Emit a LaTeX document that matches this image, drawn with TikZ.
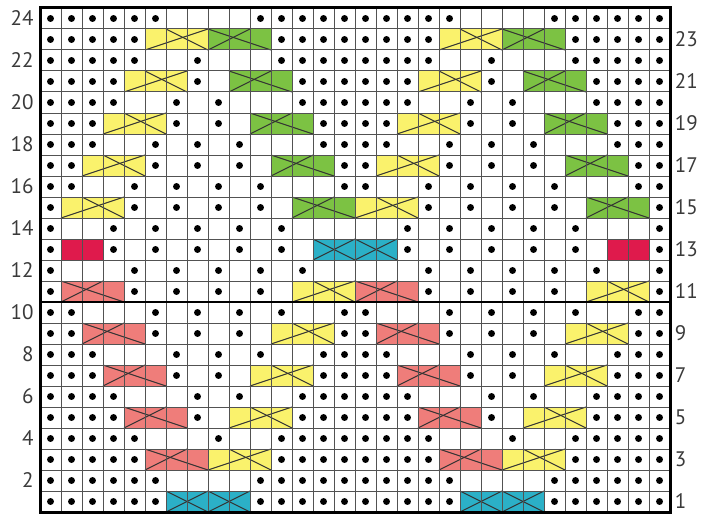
\documentclass[tikz,border=0pt]{standalone}
\usepackage{fontspec}
\setmainfont{PT Sans}
\definecolor{cyel}{HTML}{FAF26C}
\definecolor{cgrn}{HTML}{7CC243}
\definecolor{cpnk}{HTML}{EF7D7A}
\definecolor{cred}{HTML}{DF1A4C}
\definecolor{ccya}{HTML}{2BB0C7}
\definecolor{clab}{HTML}{3A3A3A}
\tikzset{
  gridline/.style={line width=1pt, black!68},
  cabline/.style={line width=1pt, black!80},
  stdot/.style={fill=black},
  rowlab/.style={text=clab, font=\fontsize{21}{23}\selectfont, inner sep=0pt},
}
\newcommand{\cabL}[3]{%
  \fill[#3] ({#1-1},{#2-1}) rectangle ({#1+2},#2);
  \draw[cabline] ({#1-1},#2) -- ({#1+2},{#2-1});
  \draw[cabline] ({#1-1},{#2-1}) -- ({#1+1},#2);}
\newcommand{\cabR}[3]{%
  \fill[#3] ({#1-1},{#2-1}) rectangle ({#1+2},#2);
  \draw[cabline] ({#1-1},{#2-1}) -- ({#1+2},#2);
  \draw[cabline] (#1,#2) -- ({#1+2},{#2-1});}
\newcommand{\cabC}[2]{%
  \fill[ccya] ({#1-1},{#2-1}) rectangle ({#1+3},#2);
  \draw[cabline] ({#1-1},#2) -- ({#1+1},{#2-1});
  \draw[cabline] ({#1-1},{#2-1}) -- ({#1+1},#2);
  \draw[cabline] ({#1+1},#2) -- ({#1+3},{#2-1});
  \draw[cabline] ({#1+1},{#2-1}) -- ({#1+3},#2);}
\newcommand{\cabP}[2]{%
  \fill[cred] ({#1-1},{#2-1}) rectangle ({#1+1},#2);}
\newcommand{\dotrow}[2]{%
  \foreach \cc in {#2} {\fill[stdot] ({\cc-0.5},{#1-0.5}) circle (0.165);}}
\begin{document}
\begin{tikzpicture}[x=21pt,y=21pt]
\useasboundingbox[fill=white] (-1.905,-0.095) rectangle (31.571,24.381);
% cables (fill and crossing lines)
\cabC{7}{1} \cabC{21}{1}
\cabL{6}{3}{cpnk} \cabL{20}{3}{cpnk} \cabR{9}{3}{cyel} \cabR{23}{3}{cyel}
\cabL{5}{5}{cpnk} \cabL{19}{5}{cpnk} \cabR{10}{5}{cyel} \cabR{24}{5}{cyel}
\cabL{4}{7}{cpnk} \cabL{18}{7}{cpnk} \cabR{11}{7}{cyel} \cabR{25}{7}{cyel}
\cabL{3}{9}{cpnk} \cabL{17}{9}{cpnk} \cabR{12}{9}{cyel} \cabR{26}{9}{cyel}
\cabL{2}{11}{cpnk} \cabL{16}{11}{cpnk} \cabR{13}{11}{cyel} \cabR{27}{11}{cyel}
\cabP{2}{13} \cabP{28}{13} \cabC{14}{13}
\cabR{2}{15}{cyel} \cabR{16}{15}{cyel} \cabL{13}{15}{cgrn} \cabL{27}{15}{cgrn}
\cabR{3}{17}{cyel} \cabR{17}{17}{cyel} \cabL{12}{17}{cgrn} \cabL{26}{17}{cgrn}
\cabR{4}{19}{cyel} \cabR{18}{19}{cyel} \cabL{11}{19}{cgrn} \cabL{25}{19}{cgrn}
\cabR{5}{21}{cyel} \cabR{19}{21}{cyel} \cabL{10}{21}{cgrn} \cabL{24}{21}{cgrn}
\cabR{6}{23}{cyel} \cabR{20}{23}{cyel} \cabL{9}{23}{cgrn} \cabL{23}{23}{cgrn}
% grid
\foreach \i in {1,...,29} {\draw[gridline] (\i,0) -- (\i,24);}
\foreach \j in {1,...,23} {\draw[gridline] (0,\j) -- (30,\j);}
% dots
\dotrow{1}{1,2,3,4,5,6,11,12,13,14,15,16,17,18,19,20,25,26,27,28,29,30}
\dotrow{2}{1,2,3,4,5,6,11,12,13,14,15,16,17,18,19,20,25,26,27,28,29,30}
\dotrow{3}{1,2,3,4,5,12,13,14,15,16,17,18,19,26,27,28,29,30}
\dotrow{4}{1,2,3,4,5,9,12,13,14,15,16,17,18,19,23,26,27,28,29,30}
\dotrow{5}{1,2,3,4,8,13,14,15,16,17,18,22,27,28,29,30}
\dotrow{6}{1,2,3,4,8,10,13,14,15,16,17,18,22,24,27,28,29,30}
\dotrow{7}{1,2,3,7,9,14,15,16,17,21,23,28,29,30}
\dotrow{8}{1,2,3,7,9,11,14,15,16,17,21,23,25,28,29,30}
\dotrow{9}{1,2,6,8,10,15,16,20,22,24,29,30}
\dotrow{10}{1,2,6,8,10,12,15,16,20,22,24,26,29,30}
\dotrow{11}{1,5,7,9,11,19,21,23,25,30}
\dotrow{12}{1,5,7,9,11,13,19,21,23,25,27,30}
\dotrow{13}{1,4,6,8,10,12,18,20,22,24,26,30}
\dotrow{14}{1,4,6,8,10,12,18,20,22,24,26,30}
\dotrow{15}{1,5,7,9,11,19,21,23,25,30}
\dotrow{16}{1,2,5,7,9,11,15,16,19,21,23,25,29,30}
\dotrow{17}{1,2,6,8,10,15,16,20,22,24,29,30}
\dotrow{18}{1,2,3,6,8,10,14,15,16,17,20,22,24,28,29,30}
\dotrow{19}{1,2,3,7,9,14,15,16,17,21,23,28,29,30}
\dotrow{20}{1,2,3,4,7,9,13,14,15,16,17,18,21,23,27,28,29,30}
\dotrow{21}{1,2,3,4,8,13,14,15,16,17,18,22,27,28,29,30}
\dotrow{22}{1,2,3,4,5,8,12,13,14,15,16,17,18,19,22,26,27,28,29,30}
\dotrow{23}{1,2,3,4,5,12,13,14,15,16,17,18,19,26,27,28,29,30}
\dotrow{24}{1,2,3,4,5,6,11,12,13,14,15,16,17,18,19,20,25,26,27,28,29,30}
% borders
\draw[line width=2.2pt] (0,10) -- (30,10);
\draw[line width=3pt] (0,0) rectangle (30,24);
% labels
\foreach \r in {2,4,...,24} {\node[rowlab, anchor=east] (L\r) at (-0.3,{\r-0.5}) {\r};}
\foreach \r in {1,3,...,23} {\node[rowlab, anchor=west] (R\r) at (30.22,{\r-0.5}) {\r};}
\end{tikzpicture}
\end{document}
